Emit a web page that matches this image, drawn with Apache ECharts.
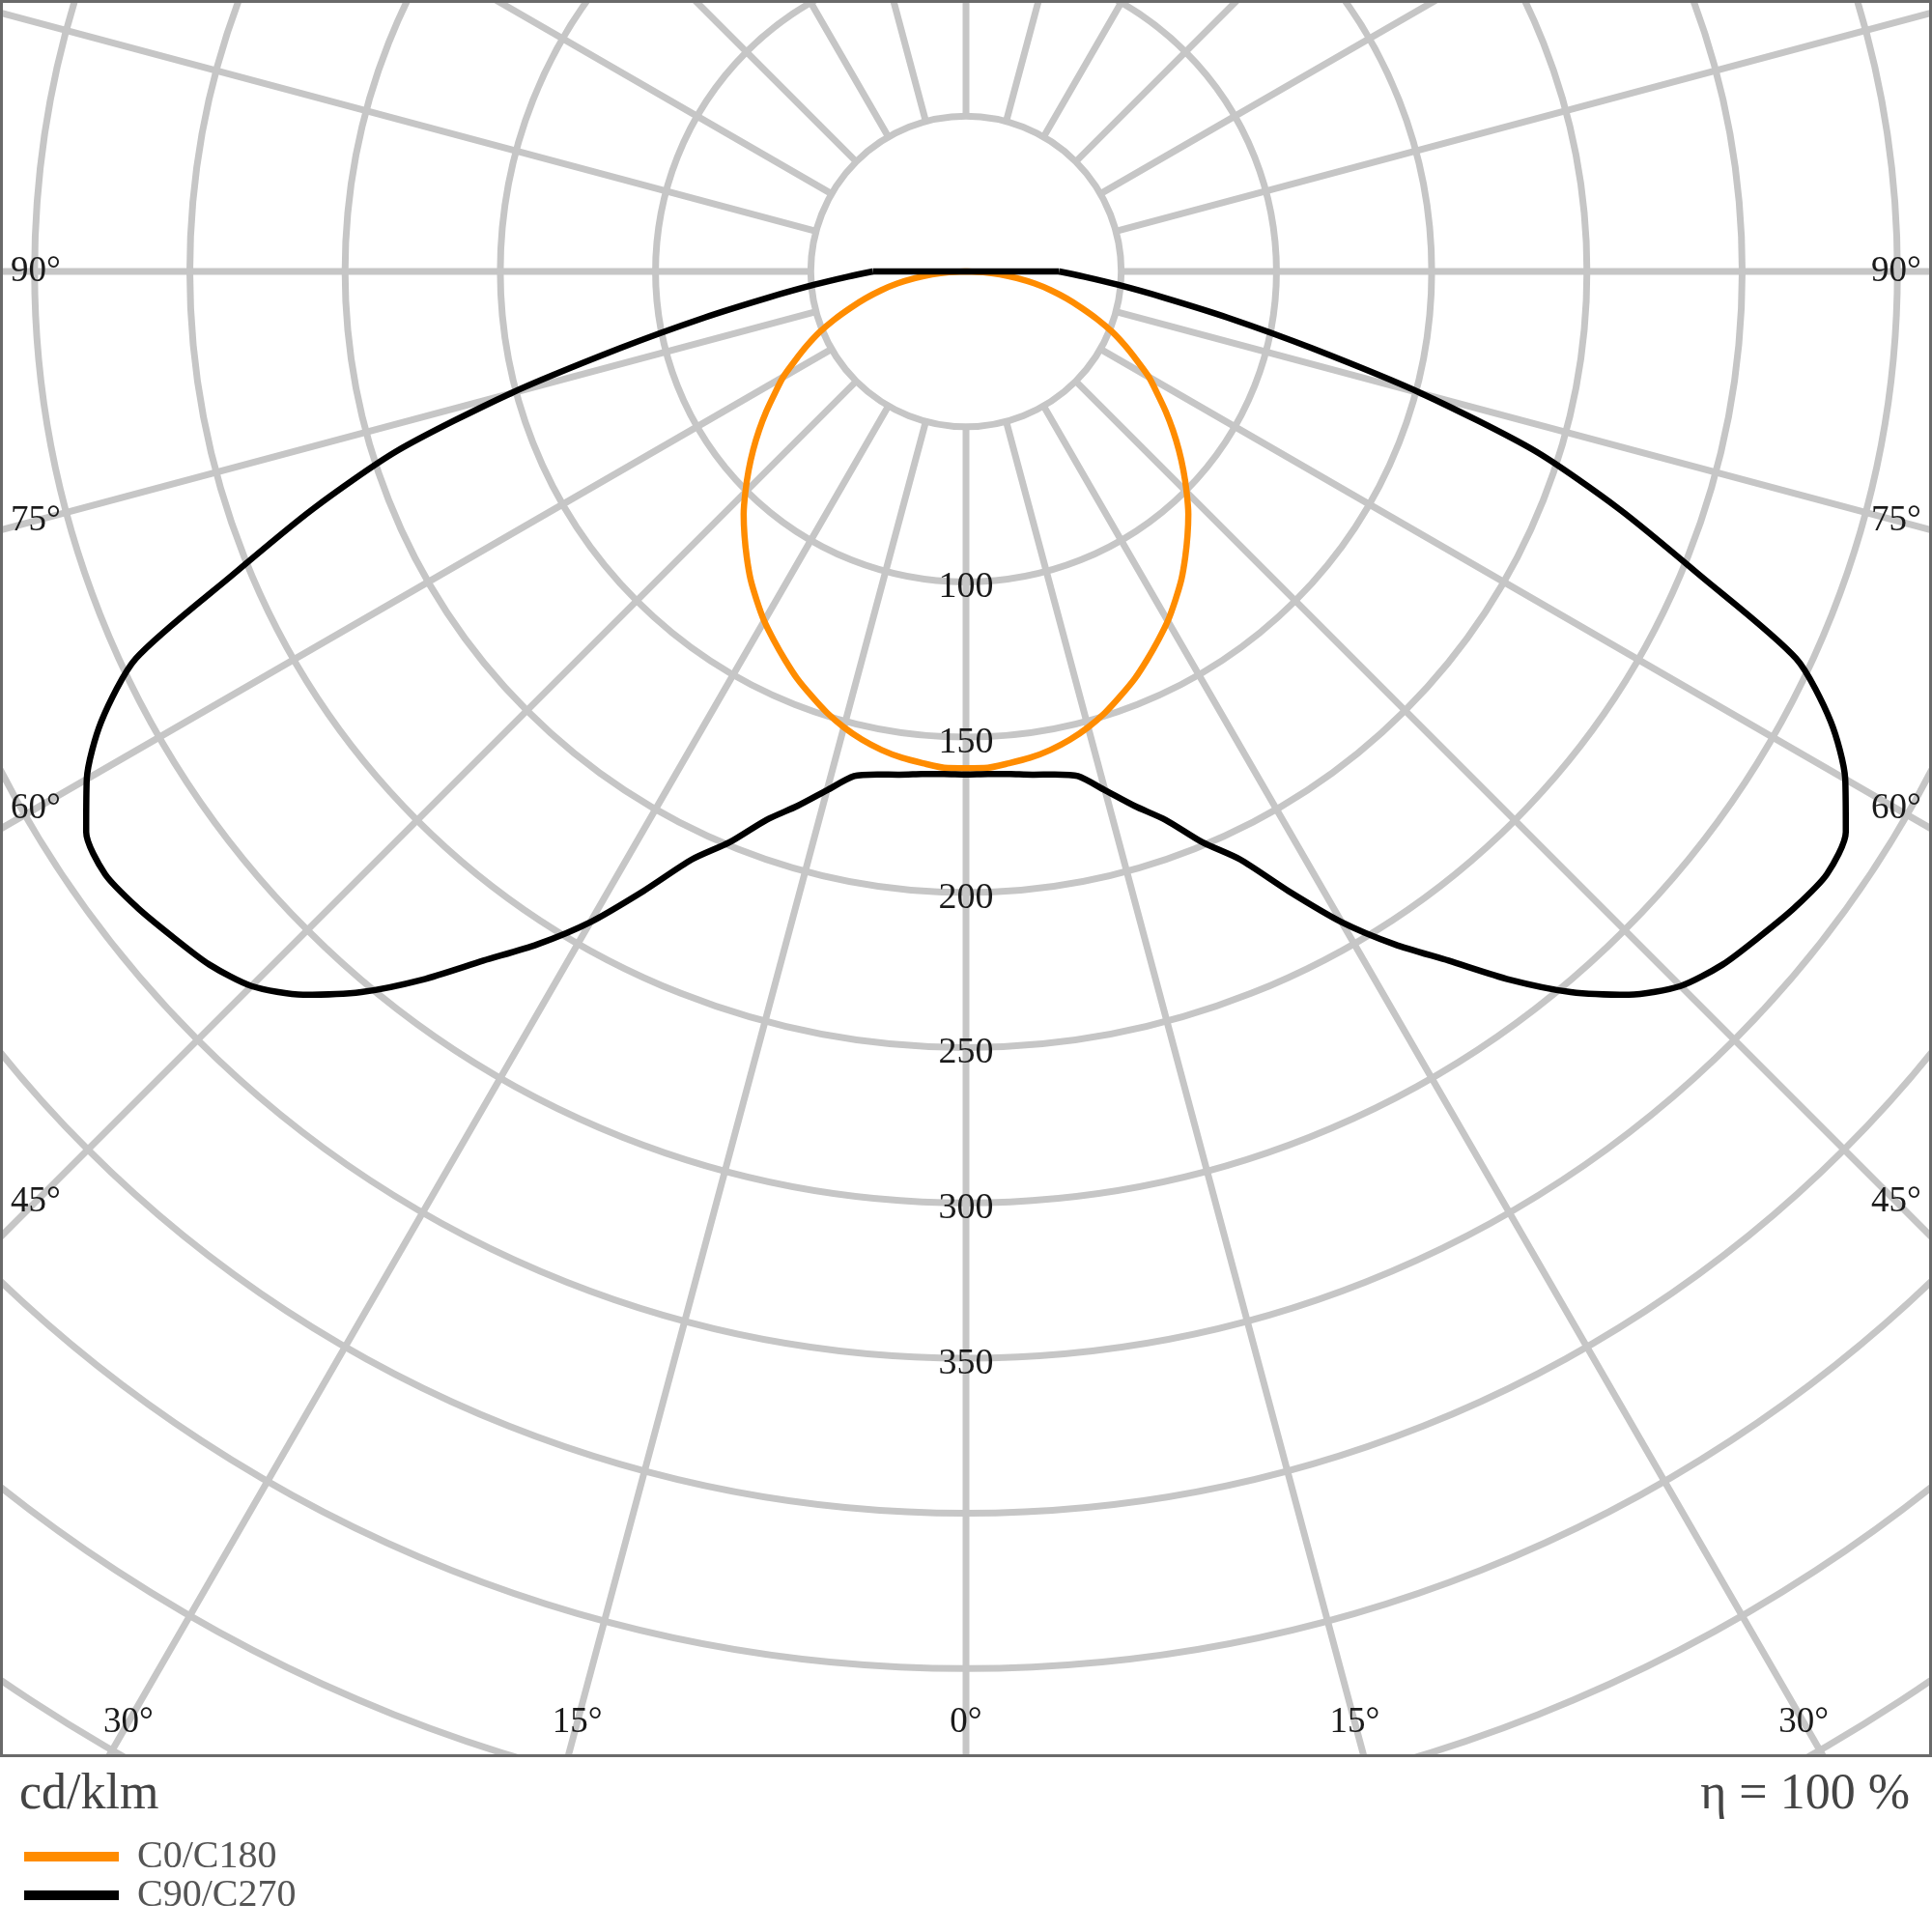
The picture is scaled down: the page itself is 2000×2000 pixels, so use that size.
<!DOCTYPE html>
<html>
<head>
<meta charset="utf-8">
<script src="https://cdn.jsdelivr.net/npm/echarts@6/dist/echarts.min.js"></script>
<style>
html,body{margin:0;padding:0;background:#fff}
#chart{width:2000px;height:2000px}
</style>
</head>
<body>
<div id="chart"></div>
<script>
// ---- data (cd/klm), gamma angles 0..90 deg, symmetric C-planes ----
const gammaAngles = [0, 2.5, 5, 7.5, 10, 12.5, 15, 17.5, 20, 22.5, 25, 27.5, 30, 32.5, 35, 37.5, 40, 42.5, 45,
                     47.5, 50, 52.5, 55, 57.5, 60, 62.5, 65, 67.5, 70, 72.5, 75, 77.5, 80, 82.5, 85, 87.5, 90];
const c0c180 = [160, 160, 159, 158, 156.5, 154.5, 152, 149, 145.5, 142, 138, 134, 130, 125.5, 121, 116, 111, 106, 100.5,
                95, 89.5, 84, 78.5, 73, 68, 62, 56.5, 51, 45, 39, 33.5, 28, 22.5, 16.5, 11, 5.5, 0];
const c90c270 = [162, 162, 162.5, 163.5, 164.5, 166.5, 173, 180.5, 188, 199, 209, 225, 242, 257, 271, 287.5, 303, 316, 325.5,
                 330.5, 333.5, 336.5, 338.5, 336, 327, 314, 295, 256, 224, 192, 152, 114, 85.5, 64, 49, 38, 30];
const ringLabels = [100, 150, 200, 250, 300, 350];
const sideAngleLabels = [90, 75, 60, 45];
const bottomAngleLabels = [-30, -15, 0, 15, 30];
const seriesNames = ['C0/C180', 'C90/C270'];

// ---- layout ----
const CX = 1000, CY = 281;
const PX_PER_UNIT = 3.214;
const R_MAX = 600;
const PLOT_BOTTOM = 1817;
const FONT = '"Liberation Serif", "Times New Roman", serif';

function mirrored(values) {
  const out = [];
  for (let i = gammaAngles.length - 1; i > 0; i--) out.push([values[i], -gammaAngles[i]]);
  for (let i = 0; i < gammaAngles.length; i++) out.push([values[i], gammaAngles[i]]);
  return out;
}
const last = gammaAngles.length - 1;

const gridLine = { color: '#c6c6c6', width: 7 };

// angle labels positioned where the spokes meet the label band near the frame
const graphics = [];
const sideX = 37;
sideAngleLabels.forEach(a => {
  const t = a === 90 ? 0 : (CX - sideX) / Math.tan(a * Math.PI / 180);
  const y = CY + t;
  [sideX, 2000 - sideX].forEach(x => graphics.push({
    type: 'text', z: 102, x: x, y: y,
    style: { text: a + '°', font: '37px ' + FONT, fill: '#1a1a1a', align: 'center', verticalAlign: 'middle' }
  }));
});
const bottomY = 1783;
bottomAngleLabels.forEach(a => {
  const x = CX + (bottomY - CY) * Math.tan(a * Math.PI / 180);
  graphics.push({
    type: 'text', z: 102, x: x, y: bottomY,
    style: { text: Math.abs(a) + '°', font: '37px ' + FONT, fill: '#1a1a1a', align: 'center', verticalAlign: 'middle' }
  });
});

const chart = echarts.init(document.getElementById('chart'), null, { renderer: 'canvas' });
chart.setOption({
  backgroundColor: '#ffffff',
  animation: false,
  polar: [
    { center: [CX, CY], radius: [50 * PX_PER_UNIT, R_MAX * PX_PER_UNIT] },
    { center: [CX, CY], radius: [0, R_MAX * PX_PER_UNIT] }
  ],
  angleAxis: [
    {
      polarIndex: 0, type: 'value', min: 0, max: 360, interval: 15,
      startAngle: -90, clockwise: false,
      axisLine: { show: false }, axisTick: { show: false }, axisLabel: { show: false },
      splitLine: { show: true, lineStyle: gridLine }
    },
    {
      polarIndex: 1, type: 'value', min: -180, max: 180,
      startAngle: 90, clockwise: false, show: false,
      axisLine: { show: false }, axisTick: { show: false }, axisLabel: { show: false }, splitLine: { show: false }
    }
  ],
  radiusAxis: [
    {
      polarIndex: 0, type: 'value', min: 50, max: R_MAX, interval: 50, z: 1,
      axisLine: { show: false }, axisTick: { show: false },
      splitLine: { show: true, lineStyle: gridLine },
      axisLabel: {
        show: true, margin: 0, align: 'center', verticalAlign: 'top',
        fontFamily: FONT, fontSize: 38, color: '#1a1a1a', lineHeight: 12,
        formatter: v => (ringLabels.indexOf(v) >= 0 ? String(v) : '')
      }
    },
    {
      polarIndex: 1, type: 'value', min: 0, max: R_MAX, show: false,
      axisLine: { show: false }, axisTick: { show: false }, axisLabel: { show: false }, splitLine: { show: false }
    }
  ],
  legend: {
    left: 20, top: 1897, orient: 'vertical', z: 300,
    itemWidth: 98, itemHeight: 10, itemGap: 0, icon: 'rect', selectedMode: false,
    data: seriesNames,
    textStyle: { fontFamily: FONT, fontSize: 40, color: '#555', lineHeight: 40, padding: [0, 0, 0, 14] }
  },
  series: [
    {
      name: seriesNames[0], type: 'line', coordinateSystem: 'polar', polarIndex: 1,
      data: mirrored(c0c180), showSymbol: false, smooth: 0.25, z: 3,
      lineStyle: { color: '#ff8c00', width: 6.5, join: 'round' }, itemStyle: { color: '#ff8c00' }
    },
    {
      name: seriesNames[1], type: 'line', coordinateSystem: 'polar', polarIndex: 1,
      data: mirrored(c90c270), showSymbol: false, smooth: 0.25, z: 4,
      lineStyle: { color: '#000', width: 6.5, join: 'round' }, itemStyle: { color: '#000' }
    },
    {
      name: seriesNames[1], type: 'line', coordinateSystem: 'polar', polarIndex: 1,
      data: [[c90c270[last], gammaAngles[last]], [0, 180], [c90c270[last], -gammaAngles[last]]],
      showSymbol: false, smooth: false, z: 4,
      lineStyle: { color: '#000', width: 6.5 }, itemStyle: { color: '#000' }
    }
  ],
  graphic: [
    { type: 'rect', z: 100, shape: { x: 0, y: PLOT_BOTTOM + 1, width: 2000, height: 2000 - PLOT_BOTTOM }, style: { fill: '#fff' } },
    { type: 'rect', z: 101, shape: { x: 1.5, y: 1.5, width: 1997, height: PLOT_BOTTOM - 1 }, style: { fill: null, stroke: '#6a6a6a', lineWidth: 3 } },
    { type: 'text', z: 102, x: 20, y: 1858, style: { text: 'cd/klm', font: '52px ' + FONT, fill: '#444', align: 'left', verticalAlign: 'middle' } },
    { type: 'text', z: 102, x: 1977, y: 1858, style: { text: 'η = 100 %', font: '52px ' + FONT, fill: '#444', align: 'right', verticalAlign: 'middle' } }
  ].concat(graphics)
});
</script>
</body>
</html>
